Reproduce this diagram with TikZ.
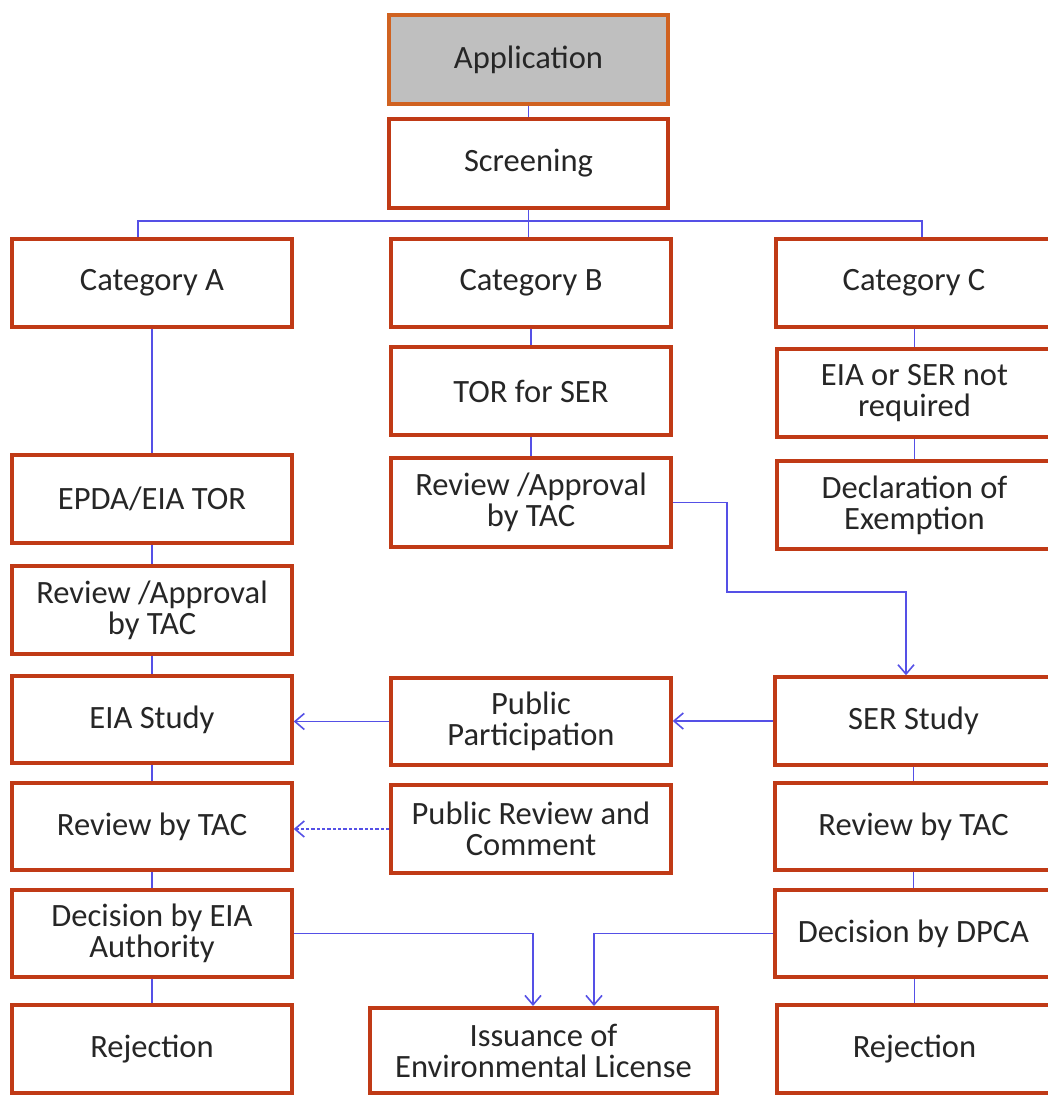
\documentclass[tikz,border=0pt]{standalone}
\usepackage{fontspec}
\setmainfont{Carlito}
\usetikzlibrary{arrows.meta}
\definecolor{boxred}{RGB}{192,58,22}
\definecolor{apporange}{RGB}{208,98,32}
\definecolor{appgray}{RGB}{191,191,191}
\definecolor{linkblue}{RGB}{85,80,230}
\definecolor{txt}{RGB}{38,38,38}
\tikzset{
  box/.style={draw=boxred, line width=2.6pt, fill=white, inner sep=0pt, align=center,
    text=txt, font=\fontsize{24.4}{23.3}\selectfont},
  sz/.style 2 args={minimum width=#1*0.75pt, minimum height=#2*0.75pt},
  appbox/.style={box, draw=apporange, fill=appgray},
  conn/.style={draw=linkblue, line width=1.2pt},
  arr/.style={conn, -{Straight Barb[length=7pt,width=12pt,line width=1.2pt]}},
  darr/.style={arr, dash pattern=on 2.4pt off 1.6pt},
}
\begin{document}
\begin{tikzpicture}[x=0.75pt,y=-0.75pt]
\useasboundingbox (0,0) rectangle (1048,1095);
\clip (0,0) rectangle (1048,1095);
% top
\node[appbox, sz={279}{89}] (app) at (528.5,59.5) {Application};
\node[box, sz={279}{89}] (scr) at (528.5,163.5) {Screening};
% column A
\node[box, sz={280}{88}] (catA) at (152,283) {Category A};
\node[box, sz={280}{88}] (epda) at (152,499) {EPDA/EIA TOR};
\node[box, sz={280}{88}] (revA) at (152,610) {Review /Approval\\by TAC};
\node[box, sz={280}{87}] (eiaS) at (152,719.5) {EIA Study};
\node[box, sz={280}{87}] (rtA) at (152,826.5) {Review by TAC};
\node[box, sz={280}{87}] (decA) at (152,933.5) {Decision by EIA\\Authority};
\node[box, sz={280}{88}] (rejA) at (152,1049) {Rejection};
% column B
\node[box, sz={280}{88}] (catB) at (531,283) {Category B};
\node[box, sz={280}{88}] (torB) at (531,391) {TOR for SER};
\node[box, sz={280}{89}] (revB) at (531,502.5) {Review /Approval\\by TAC};
\node[box, sz={280}{87}] (pp) at (531,721.5) {Public\\Participation};
\node[box, sz={280}{88}] (prc) at (531,829) {Public Review and\\Comment};
\node[box, sz={347}{85}] (iss) at (543.5,1050.5) {Issuance of\\Environmental License};
% column C
\node[box, sz={276}{88}] (catC) at (914,283) {Category C};
\node[box, sz={275}{88}] (eor) at (914.5,393) {EIA or SER not\\required};
\node[box, sz={275}{88}] (dex) at (914.5,505) {Declaration of\\Exemption};
\node[box, sz={277}{88}] (ser) at (913.5,721) {SER Study};
\node[box, sz={277}{87}] (rtC) at (913.5,826.5) {Review by TAC};
\node[box, sz={277}{87}] (decC) at (913.5,933.5) {Decision by DPCA};
\node[box, sz={275}{88}] (rejC) at (914.5,1049) {Rejection};
% helper coordinates
\coordinate (ja) at (138,221);
\coordinate (jc) at (922,221);
\coordinate (k1) at (727,592);
\coordinate (k2) at (906,592);
\coordinate (i1) at (533,1006);
\coordinate (i2) at (594,1006);
% connectors
\draw[conn] (app.south) -- (scr.north);
\draw[conn] (scr.south) -- (scr.south |- catB.north);
\draw[conn] (ja |- catA.north) -- (ja) -- (jc) -- (jc |- catC.north);
\draw[conn] (catA.south) -- (epda.north);
\draw[conn] (epda.south) -- (revA.north);
\draw[conn] (revA.south) -- (eiaS.north);
\draw[conn] (eiaS.south) -- (rtA.north);
\draw[conn] (rtA.south) -- (decA.north);
\draw[conn] (decA.south) -- (rejA.north);
\draw[conn] (catB.south) -- (torB.north);
\draw[conn] (torB.south) -- (revB.north);
\draw[conn] (eor.north) -- (eor.north |- catC.south);
\draw[conn] (eor.south) -- (dex.north);
\draw[conn] (ser.south) -- (rtC.north);
\draw[conn] (rtC.south) -- (decC.north);
\draw[conn] (rejC.north) -- (rejC.north |- decC.south);
\draw[arr] (revB.east) -| (k1) -- (k2) -- (k2 |- ser.north);
\draw[arr] (ser.west) -- (ser.west -| pp.east);
\draw[arr] (pp.west) -- (pp.west -| eiaS.east);
\draw[darr] (prc.west) -- (prc.west -| rtA.east);
\draw[arr] (decA.east) -| (i1);
\draw[arr] (decC.west) -| (i2);
\end{tikzpicture}
\end{document}
